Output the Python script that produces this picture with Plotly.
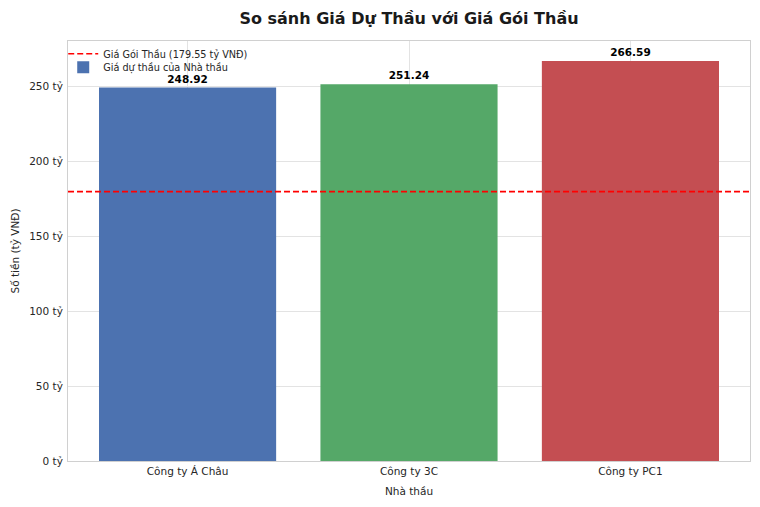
import plotly.graph_objects as go

contractors = ["Công ty Á Châu", "Công ty 3C", "Công ty PC1"]
bids = [248.92, 251.24, 266.59]
bar_colors = ["#4C72B0", "#55A868", "#C44E52"]
package_price = 179.55
y_ticks = [0, 50, 100, 150, 200, 250]
y_tick_labels = [f"{v} tỷ" for v in y_ticks]

FONT = "DejaVu Sans"
x_pos = list(range(len(contractors)))

fig = go.Figure()
fig.add_trace(go.Bar(
    x=x_pos, y=bids, width=0.8,
    marker=dict(color=bar_colors, line=dict(width=0)),
    name="Giá dự thầu của Nhà thầu",
    text=[f"<b>{v:.2f}</b>" for v in bids],
    textposition="outside", cliponaxis=False,
    textfont=dict(family=FONT, size=10.5, color="#000000"),
    legend="legend2", hoverinfo="skip",
))

fig.add_shape(
    type="line", xref="x domain", x0=0, x1=1, yref="y",
    y0=package_price, y1=package_price,
    line=dict(color="#ff0000", width=1.6, dash="6px,3px"),
    layer="above", showlegend=True, legend="legend",
    name=f"Giá Gói Thầu ({package_price} tỷ VNĐ)",
)

legend_common = dict(xanchor="left", yanchor="top",
                     bgcolor="rgba(255,255,255,0)", borderwidth=0,
                     font=dict(family=FONT, size=9.7, color="#262626"),
                     itemwidth=30)

fig.update_layout(
    width=760, height=507,
    margin=dict(l=68, r=10, t=41, b=46, autoexpand=False),
    paper_bgcolor="white", plot_bgcolor="white",
    font=dict(family=FONT, size=10.5, color="#262626"),
    title=dict(text="<b>So sánh Giá Dự Thầu với Giá Gói Thầu</b>",
               x=(68 + 750) / 2 / 760, xanchor="center", y=0.964, yanchor="middle",
               font=dict(family=FONT, size=16, color="#1a1a1a")),
    showlegend=True,
    legend=dict(x=-0.007, y=1.004, **legend_common),
    legend2=dict(x=-0.007, y=0.972, **legend_common),
)
fig.update_xaxes(
    range=[-0.54, 2.54], tickvals=x_pos, ticktext=contractors,
    showgrid=True, gridcolor="#e3e3e3", gridwidth=1,
    showline=True, linecolor="#d0d0d0", linewidth=1, mirror=True,
    ticks="", zeroline=False, automargin=False,
    title=dict(text="Nhà thầu", standoff=12, font=dict(size=10.5)),
)
fig.update_yaxes(
    range=[0, 280], tickvals=y_ticks, ticktext=y_tick_labels,
    showgrid=True, gridcolor="#e3e3e3", gridwidth=1,
    showline=True, linecolor="#d0d0d0", linewidth=1, mirror=True,
    ticks="", zeroline=False, ticklabelstandoff=2, automargin=False,
    title=dict(text="Số tiền (tỷ VNĐ)", standoff=7, font=dict(size=10.5)),
)

fig.write_html("out.html", config={"displayModeBar": False},
               post_script="document.body.style.margin='0';")
